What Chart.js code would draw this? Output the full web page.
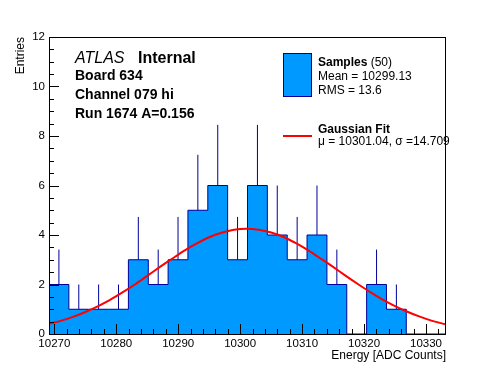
<!DOCTYPE html>
<html>
<head>
<meta charset="utf-8">
<script src="https://cdn.jsdelivr.net/npm/chart.js@4.4.0/dist/chart.umd.min.js"></script>
<style>
  html, body { margin: 0; padding: 0; background: #fff; }
</style>
</head>
<body>
<canvas id="chartEnergy" width="496" height="372"></canvas>
<script>
// histogram: 20 bins, centres + counts + upper errors
const binCenters = [10270.74, 10273.95, 10277.15, 10280.36, 10283.56, 10286.77, 10289.97, 10293.17, 10296.38, 10299.58,
                    10302.79, 10305.99, 10309.20, 10312.40, 10315.61, 10318.81, 10322.02, 10325.22, 10328.42, 10331.63];
const binWidth = 3.2045;
const binCounts = [2, 1, 1, 1, 3, 2, 3, 5, 6, 3, 6, 4, 3, 4, 2, 0, 2, 1, 0, 0];
const binErrors = [1.41, 1, 1, 1, 1.73, 1.41, 1.73, 2.24, 2.45, 1.73, 2.45, 2, 1.73, 2, 1.41, 0, 1.41, 1, 0, 0];

// gaussian fit curve
const fitX = [10269, 10271, 10273, 10275, 10277, 10279, 10281, 10283, 10285, 10287, 10289, 10291, 10293, 10295, 10297, 10299,
              10301, 10303, 10305, 10307, 10309, 10311, 10313, 10315, 10317, 10319, 10321, 10323, 10325, 10327, 10329, 10331, 10333, 10335];
const fitY = [0.40, 0.53, 0.69, 0.89, 1.12, 1.38, 1.68, 2.00, 2.35, 2.70, 3.04, 3.37, 3.66, 3.91, 4.09, 4.21,
              4.25, 4.21, 4.10, 3.92, 3.67, 3.38, 3.05, 2.71, 2.36, 2.02, 1.69, 1.39, 1.13, 0.90, 0.70, 0.53, 0.40, 0.30];

// axes
const xMin = 10269.14, xMax = 10333.23;
const xMajorTicks = [10270, 10280, 10290, 10300, 10310, 10320, 10330];
const yMajorTicks = [0, 2, 4, 6, 8, 10, 12];
const xMinorStep = 2, yMinorStep = 0.5;

const fillBlue = '#0099ff';
const lineBlue = '#000099';
const fitRed = '#ff0000';
const fontName = '"Liberation Sans", Arial, Helvetica, sans-serif';

// step outline points at bin edges
const histPoints = binCounts.map((v, i) => ({ x: binCenters[i] - binWidth / 2, y: v }));
histPoints.push({ x: binCenters[binCenters.length - 1] + binWidth / 2, y: binCounts[binCounts.length - 1] });

// vertical error bars, split by nulls
const errPoints = [];
binCounts.forEach((v, i) => {
    if (v > 0) {
        errPoints.push({ x: binCenters[i], y: v });
        errPoints.push({ x: binCenters[i], y: v + binErrors[i] });
        errPoints.push({ x: binCenters[i], y: null });
    }
});

const fitPoints = fitX.map((x, i) => ({ x: x, y: fitY[i] }));

const xTickValues = [];
for (let v = 10270; v <= xMax; v += xMinorStep) xTickValues.push(v);
const yTickValues = [];
for (let v = 0; v <= 12; v += yMinorStep) yTickValues.push(v);

// ROOT-like frame, inward ticks, text boxes
const rootStyle = {
    id: 'rootStyle',
    afterDatasetsDraw(chart) {
        const ctx = chart.ctx;
        const a = chart.chartArea;
        const xs = chart.scales.x, ys = chart.scales.y;
        ctx.save();
        ctx.strokeStyle = '#000';
        ctx.lineWidth = 1;
        ctx.beginPath();
        xs.ticks.forEach(t => {
            const px = Math.round(xs.getPixelForValue(t.value)) + 0.5;
            const len = xMajorTicks.includes(t.value) ? 10 : 5;
            ctx.moveTo(px, a.bottom);
            ctx.lineTo(px, a.bottom - len);
        });
        ys.ticks.forEach(t => {
            const py = Math.round(ys.getPixelForValue(t.value)) + 0.5;
            const len = yMajorTicks.includes(t.value) ? 10 : 5;
            ctx.moveTo(a.left, py);
            ctx.lineTo(a.left + len, py);
        });
        ctx.stroke();
        ctx.strokeRect(Math.round(a.left) + 0.5, Math.round(a.top) + 0.5, Math.round(a.right - a.left) - 1, Math.round(a.bottom - a.top));
        ctx.restore();
    },
    afterDraw(chart) {
        const ctx = chart.ctx;
        ctx.save();
        ctx.fillStyle = '#000';
        ctx.textBaseline = 'alphabetic';
        ctx.textAlign = 'left';

        ctx.font = 'italic 16px ' + fontName;
        ctx.fillText('ATLAS', 75, 63);
        ctx.font = 'bold 16px ' + fontName;
        ctx.fillText('Internal', 138, 63);
        ctx.font = 'bold 14px ' + fontName;
        ctx.fillText('Board 634', 75, 80);
        ctx.fillText('Channel 079 hi', 75, 99);
        ctx.fillText('Run 1674 A=0.156', 75, 118);

        // legend
        ctx.fillStyle = fillBlue;
        ctx.fillRect(283, 53, 28, 43);
        ctx.strokeStyle = lineBlue;
        ctx.lineWidth = 1;
        ctx.strokeRect(283.5, 53.5, 28, 43);
        ctx.strokeStyle = fitRed;
        ctx.lineWidth = 2;
        ctx.beginPath();
        ctx.moveTo(283, 136);
        ctx.lineTo(312, 136);
        ctx.stroke();

        ctx.fillStyle = '#000';
        ctx.font = 'bold 12px ' + fontName;
        ctx.fillText('Samples', 318, 66);
        const w = ctx.measureText('Samples').width;
        ctx.font = '12px ' + fontName;
        ctx.fillText(' (50)', 318 + w, 66);
        ctx.fillText('Mean = 10299.13', 318, 80);
        ctx.fillText('RMS = 13.6', 318, 94);
        ctx.font = 'bold 12px ' + fontName;
        ctx.fillText('Gaussian Fit', 318, 133);
        ctx.font = '12px ' + fontName;
        ctx.fillText('\u03bc = 10301.04, \u03c3 =14.709', 318, 145);
        ctx.restore();
    }
};

new Chart(document.getElementById('chartEnergy').getContext('2d'), {
    type: 'line',
    data: {
        datasets: [
            {
                label: 'Gaussian Fit',
                data: fitPoints,
                borderColor: fitRed,
                borderWidth: 2,
                pointRadius: 0,
                tension: 0.3,
                fill: false,
                clip: 0,
                order: 1
            },
            {
                label: 'errors',
                data: errPoints,
                borderColor: lineBlue,
                borderWidth: 1,
                pointRadius: 0,
                spanGaps: false,
                fill: false,
                order: 2
            },
            {
                label: 'Samples',
                data: histPoints,
                stepped: 'before',
                borderColor: lineBlue,
                borderWidth: 1,
                backgroundColor: fillBlue,
                fill: 'origin',
                pointRadius: 0,
                clip: 0,
                order: 3
            }
        ]
    },
    options: {
        responsive: false,
        animation: false,
        events: [],
        layout: { padding: { top: 37, right: 50, left: 0, bottom: 0 } },
        plugins: {
            legend: { display: false },
            tooltip: { enabled: false }
        },
        scales: {
            x: {
                type: 'linear',
                min: xMin,
                max: xMax,
                afterBuildTicks(s) { s.ticks = xTickValues.map(v => ({ value: v })); },
                afterFit(s) { s.height = 38; },
                grid: { display: false, drawTicks: false },
                border: { display: false },
                ticks: {
                    autoSkip: false,
                    maxRotation: 0,
                    padding: 3,
                    color: '#000',
                    font: { family: fontName, size: 11.5 },
                    callback: v => xMajorTicks.includes(v) ? String(v) : ''
                },
                title: {
                    display: true,
                    text: 'Energy [ADC Counts]',
                    align: 'end',
                    color: '#000',
                    font: { family: fontName, size: 12 },
                    padding: { top: 0, bottom: 9 }
                }
            },
            y: {
                min: 0,
                max: 12,
                afterBuildTicks(s) { s.ticks = yTickValues.map(v => ({ value: v })); },
                afterFit(s) { s.width = 49; },
                grid: { display: false, drawTicks: false },
                border: { display: false },
                ticks: {
                    autoSkip: false,
                    padding: 4,
                    color: '#000',
                    font: { family: fontName, size: 11.5 },
                    callback: v => yMajorTicks.includes(v) ? String(v) : ''
                },
                title: {
                    display: true,
                    text: 'Entries',
                    align: 'end',
                    color: '#000',
                    font: { family: fontName, size: 12 },
                    padding: { top: 13, bottom: 0 }
                }
            }
        }
    },
    plugins: [rootStyle]
});
</script>
</body>
</html>
